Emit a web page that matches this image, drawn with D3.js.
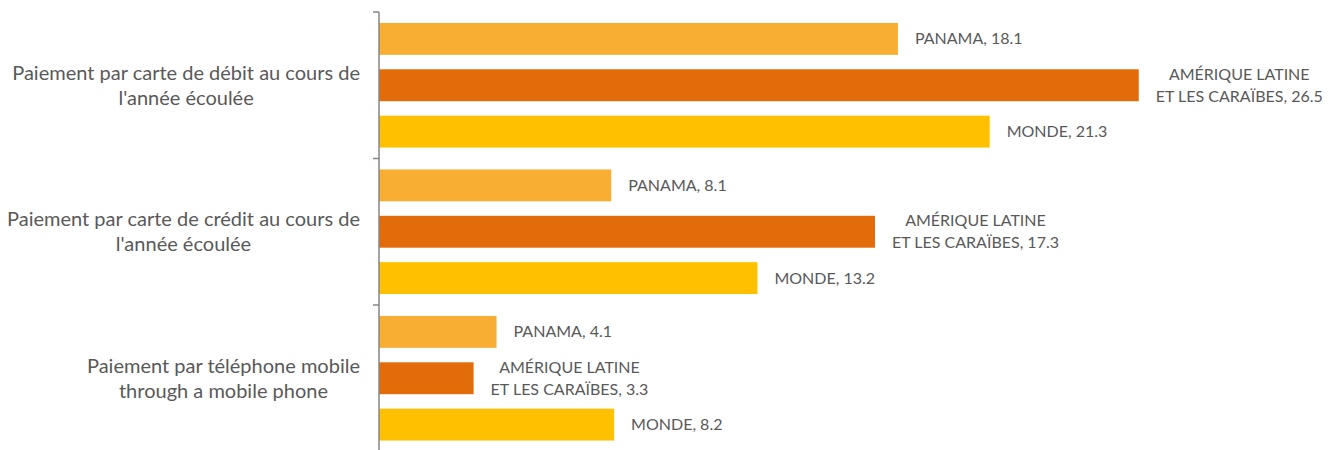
<!DOCTYPE html>
<html>
<head>
<meta charset="utf-8">
<script src="https://cdn.jsdelivr.net/npm/d3@7/dist/d3.min.js"></script>
<style>
  html, body { margin: 0; padding: 0; background: #fff; }
  svg text { font-family: Lato, "Open Sans", sans-serif; fill: #595959; }
</style>
</head>
<body>
<svg id="chart" width="1335" height="450"></svg>
<script>
// categories (each one split in lines the way the picture shows them)
const categories = [
  ['Paiement par carte de débit au cours de', "l'année écoulée"],
  ['Paiement par carte de crédit au cours de', "l'année écoulée"],
  ['Paiement par téléphone mobile', 'through a mobile phone'],
];
const series = ['PANAMA', 'AMÉRIQUE LATINE ET LES CARAÏBES', 'MONDE'];
// series label lines, the value is added to the last line
const seriesLines = [['PANAMA'], ['AMÉRIQUE LATINE', 'ET LES CARAÏBES'], ['MONDE']];
const panama = [18.1, 8.1, 4.1];
const latam = [26.5, 17.3, 3.3];
const monde = [21.3, 13.2, 8.2];
const colors = ['#F7AE32', '#E36C0A', '#FFC000'];

const values = [panama, latam, monde];

const svg = d3.select('#chart');
const axisX = 379;

const x = d3.scaleLinear().domain([0, 30]).range([axisX, axisX + 30 * 28.67]);

const y0 = d3.scaleBand()
  .domain(d3.range(categories.length))
  .range([12, 451.5])
  .padding(0);

const y1 = d3.scaleBand()
  .domain(d3.range(series.length))
  .range([0, y0.bandwidth()])
  .paddingInner(0.312)
  .paddingOuter(0.236);

// bars
const groups = svg.selectAll('g.group')
  .data(categories)
  .enter()
  .append('g')
  .attr('class', 'group')
  .attr('transform', (d, i) => `translate(0, ${y0(i)})`);

groups.each(function (cat, ci) {
  const g = d3.select(this);
  series.forEach((s, si) => {
    const v = values[si][ci];
    g.append('rect')
      .attr('x', x(0))
      .attr('y', y1(si))
      .attr('width', x(v) - x(0))
      .attr('height', y1.bandwidth())
      .attr('fill', colors[si]);

    // data label: block starts right of bar, lines centered in the block
    const lines = seriesLines[si].slice();
    lines[lines.length - 1] += ', ' + v;
    const cy = y1(si) + y1.bandwidth() / 2;
    const lineGap = 22;
    const t = g.append('text')
      .attr('font-size', '16px');
    const spans = lines.map((l, li) => t.append('tspan')
      .attr('y', cy + (li - (lines.length - 1) / 2) * lineGap)
      .attr('dy', '0.35em')
      .text(l));
    const widths = spans.map((sp) => sp.node().getComputedTextLength());
    const blockW = d3.max(widths);
    const left = x(v) + 17;
    spans.forEach((sp) => sp.attr('x', left + blockW / 2).attr('text-anchor', 'middle'));
  });

  // category label: block right aligned to 360, lines centered in it
  const cy = y0.bandwidth() / 2;
  const lineH = 25;
  const t = g.append('text').attr('font-size', '20px');
  const spans = cat.map((l, li) => t.append('tspan')
    .attr('y', cy + (li - (cat.length - 1) / 2) * lineH)
    .attr('dy', '0.35em')
    .text(l));
  const widths = spans.map((sp) => sp.node().getComputedTextLength());
  const blockW = d3.max(widths);
  spans.forEach((sp) => sp.attr('x', 360 - blockW / 2).attr('text-anchor', 'middle'));
});

// category axis with ticks between groups
const tickYs = d3.range(categories.length + 1).map((i) => (i < categories.length ? y0(i) : y0(i - 1) + y0.step()));
svg.append('line')
  .attr('x1', axisX).attr('x2', axisX)
  .attr('y1', tickYs[0]).attr('y2', tickYs[tickYs.length - 1])
  .attr('stroke', '#868686')
  .attr('stroke-width', 1.5);
svg.selectAll('line.tick')
  .data(tickYs)
  .enter()
  .append('line')
  .attr('class', 'tick')
  .attr('x1', axisX - 6).attr('x2', axisX)
  .attr('y1', (d) => d).attr('y2', (d) => d)
  .attr('stroke', '#868686')
  .attr('stroke-width', 1.5);
</script>
</body>
</html>
